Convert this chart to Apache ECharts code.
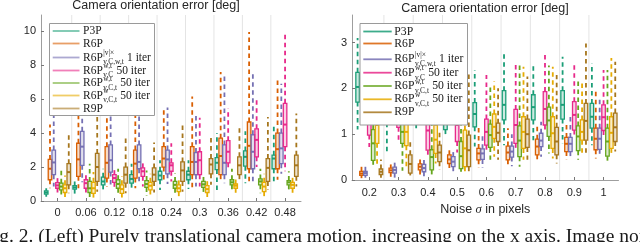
<!DOCTYPE html>
<html><head><meta charset="utf-8">
<script src="https://cdn.jsdelivr.net/npm/echarts@6/dist/echarts.min.js"></script>
<style>html,body{margin:0;padding:0;background:#fff}#c{width:640px;height:242px}</style>
</head><body><div id="c"></div>
<script>
// ---------- categories & tick labels ----------
const leftCategories = ['0','0.06','0.12','0.18','0.24','0.3','0.36','0.42','0.48'];
const rightCategories = ['0.2','0.3','0.4','0.5','0.6','0.7','0.8','0.9','1'];
const leftYTicks = [0,2,4,6,8,10];
const rightYTicks = [0,1,2,3];
const seriesNames = ['P3P','R6P','R6P |v|x v,C,w,t 1 iter','R6P w,t v,C 50 iter','R6P w,t v,C,t 50 iter','R6P w v,C,t 50 iter','R9P'];
const legendLabels = [
  {base:'P3P'},
  {base:'R6P'},
  {base:'R6P', sup:'|v|\u00d7', sub:'v,C,w,t', tail:' 1 iter'},
  {base:'R6P', sup:'w,t', sub:'v,C', tail:' 50 iter'},
  {base:'R6P', sup:'w,t', sub:'v,C,t', tail:' 50 iter'},
  {base:'R6P', sup:'w', sub:'v,C,t', tail:' 50 iter'},
  {base:'R9P'}
];
const titleText = 'Camera orientation error [deg]';
const captionText = 'Fig. 2. (Left) Purely translational camera motion, increasing on the x axis. Image noise';

// ---------- left panel: [lower whisker, Q1, median, Q3, upper whisker] per category ----------
const L_P3P  = [[0.25,0.4,0.5,0.6,0.75],[0.35,0.7,0.8,0.9,1.15],[0.65,0.95,1.15,1.4,1.9],[0.65,1.05,1.3,1.55,2.2],[0.65,1.25,1.5,1.75,2.4],[0.7,1.25,1.55,1.75,2.4],[0.65,1.85,2.25,2.55,4.0],[1.05,2.05,2.6,2.95,4.1],[1.15,1.9,2.5,2.7,4.4]];
const L_R6P  = [[0.75,1.25,1.9,2.45,4.5],[0.75,1.45,2.45,3.4,6.2],[0.85,1.35,2.25,3.2,6.0],[0.75,1.35,2.2,3.0,6.0],[1.1,2.0,2.5,3.2,5.45],[0.75,1.55,2.3,3.2,6.15],[1.25,1.55,2.65,3.7,7.6],[1.15,1.9,3.25,4.65,9.95],[1.25,1.9,3.05,4.0,7.2]];
const L_R6Pa = [[0.85,1.55,2.27,3.0,5.6],[1.1,2.1,3.2,4.1,7.0],[0.95,1.7,2.4,3.3,6.0],[1.0,1.9,2.3,3.3,5.5],[1.0,1.6,2.45,3.0,5.5],[0.85,1.55,2.3,2.85,5.05],[1.05,1.55,2.25,3.3,7.5],[1.15,1.9,2.9,3.9,7.5],[1.6,2.2,3.1,4.0,6.9]];
const L_R6Pb = [[0.5,0.75,0.92,1.08,1.45],[0.5,0.75,1.05,1.25,1.65],[0.65,1.1,1.35,1.55,2.0],[0.85,1.45,1.75,1.95,2.25],[1.15,1.75,2.1,2.25,3.4],[0.85,1.55,2.4,2.9,4.9],[1.9,2.25,2.9,3.55,5.45],[2.0,2.6,3.6,4.25,5.95],[1.75,3.2,4.5,5.75,10.0]];
const L_R6Pc = [[0.3,0.65,0.85,1.05,1.8],[0.2,0.5,0.75,1.15,2.2],[0.3,0.75,1.0,1.25,1.9],[0.3,0.8,1.0,1.2,1.8],[0.35,0.75,0.95,1.15,1.65],[0.35,0.8,0.98,1.15,1.6],[0.6,0.95,1.1,1.25,1.9],[0.45,0.95,1.15,1.3,1.9],[0.65,0.95,1.1,1.2,1.75]];
const L_R6Pd = [[0.2,0.5,0.75,0.95,1.5],[0.2,0.45,0.75,1.1,1.7],[0.2,0.45,0.7,0.95,1.45],[0.3,0.65,0.9,1.1,1.6],[0.25,0.55,0.75,0.95,1.25],[0.2,0.5,0.7,0.9,1.25],[0.45,0.75,0.9,1.0,1.35],[0.25,0.55,0.85,1.1,1.6],[0.35,0.75,0.95,1.1,1.45]];
const L_R9P  = [[0.45,0.95,1.7,2.2,3.9],[0.55,1.15,2.0,2.8,5.2],[0.45,1.05,1.55,2.0,3.7],[0.5,1.15,1.55,1.95,3.45],[0.55,1.15,1.8,2.3,4.55],[0.95,1.6,2.15,2.5,3.8],[1.2,1.55,2.1,2.6,4.45],[0.65,1.15,1.95,2.5,4.95],[0.85,1.45,2.1,2.7,5.15]];

// ---------- right panel ----------
const R_P3P  = [[1.1,1.7,2.03,2.35,3.1],[0.55,1.25,1.6,2.0,3.0],[1.1,1.4,1.75,2.1,3.0],[0.95,1.1,1.45,1.8,2.6],[0.73,1.16,1.44,1.69,2.4],[0.76,1.31,1.64,1.95,2.8],[0.87,1.31,1.59,1.86,2.56],[0.8,1.33,1.64,1.95,2.69],[0.76,1.13,1.38,1.67,2.55]];
const R_R6P  = [[0.04,0.1,0.14,0.19,0.32],[0.07,0.16,0.21,0.26,0.34],[0.12,0.22,0.29,0.35,0.48],[0.25,0.36,0.45,0.55,0.65],[0.26,0.44,0.58,0.69,1.16],[0.33,0.44,0.6,0.74,1.13],[0.4,0.55,0.73,0.89,1.18],[0.44,0.62,0.79,0.93,1.2],[0.47,0.66,0.9,1.13,1.97]];
const R_R6Pa = [[0.05,0.1,0.15,0.19,0.3],[0.04,0.15,0.22,0.28,0.45],[0.07,0.18,0.26,0.34,0.45],[0.18,0.29,0.4,0.51,0.62],[0.26,0.45,0.58,0.68,1.0],[0.3,0.5,0.62,0.74,1.0],[0.51,0.73,0.86,1.02,1.27],[0.5,0.62,0.79,0.93,1.38],[0.51,0.67,0.9,1.13,1.82]];
const R_R6Pb = [[0.72,0.98,1.25,1.6,2.5],[0.8,1.15,1.5,1.9,2.8],[0.5,0.65,1.08,1.55,2.3],[0.6,0.84,1.2,1.6,2.4],[0.62,0.76,1.05,1.33,2.29],[0.65,0.8,1.2,1.54,2.55],[1.05,1.2,1.55,1.93,2.77],[0.98,1.09,1.42,1.71,2.56],[0.95,1.08,1.37,1.64,2.4]];
const R_R6Pc = [[0.28,0.43,0.8,1.1,1.9],[0.2,0.8,1.05,1.3,2.0],[0.1,0.22,0.5,0.66,1.4],[0.18,0.25,0.52,0.84,1.5],[0.44,0.71,0.98,1.22,2.04],[0.29,0.51,0.86,1.18,2.5],[0.58,0.95,1.3,1.59,2.5],[0.44,0.64,0.95,1.18,2.22],[0.4,0.52,0.84,1.13,2.4]];
const R_R6Pd = [[0.35,0.8,1.2,1.6,2.4],[0.3,0.75,1.05,1.35,2.1],[0.36,0.58,0.88,1.2,1.9],[0.18,0.29,0.69,1.09,2.0],[0.51,0.91,1.16,1.44,2.15],[0.44,0.69,1.05,1.38,2.47],[0.47,0.69,1.02,1.38,2.47],[0.55,0.87,1.05,1.31,2.15],[0.55,0.69,1.03,1.38,2.66]];
const R_R9P  = [[0.05,0.12,0.18,0.24,0.45],[0.1,0.15,0.35,0.55,0.9],[0.22,0.4,0.6,0.76,1.06],[0.15,0.29,0.65,0.98,2.35],[0.44,0.84,1.03,1.24,2.0],[0.44,0.71,1.0,1.33,2.26],[0.36,0.55,0.84,1.15,2.29],[0.58,0.87,1.29,1.67,2.98],[0.62,0.84,1.15,1.46,2.58]];

const colors = ['#1b9e77','#d95f02','#7570b3','#e7298a','#66a61e','#e6ab02','#a6761d'];

const panels = [
  {cats:leftCategories, data:[L_P3P,L_R6P,L_R6Pa,L_R6Pb,L_R6Pc,L_R6Pd,L_R9P], yTicks:leftYTicks,
   grid:{left:41, top:15, width:260, height:186}, xMin:-0.58, xMax:8.56, yMax:10.95, spacing:0.132, halfW:0.062, labelMargin:6},
  {cats:rightCategories, data:[R_P3P,R_R6P,R_R6Pa,R_R6Pb,R_R6Pc,R_R6Pd,R_R9P], yTicks:rightYTicks,
   grid:{left:352, top:15, width:266.5, height:165}, xMin:-0.59, xMax:8.51, yMax:3.6, spacing:0.133, halfW:0.06, labelMargin:7}
];

function hexA(hex, a){
  const n = parseInt(hex.slice(1),16);
  return 'rgba('+((n>>16)&255)+','+((n>>8)&255)+','+(n&255)+','+a+')';
}

function boxRenderer(s, P){
  return function(params, api){
    const xv = api.value(0) + (s-3)*P.spacing;
    const lo=api.value(1), q1=api.value(2), med=api.value(3), q3=api.value(4), hi=api.value(5);
    const pLo=api.coord([xv,lo]), pQ1=api.coord([xv,q1]), pQ3=api.coord([xv,q3]), pHi=api.coord([xv,hi]);
    const pL=api.coord([xv-P.halfW,med]), pR=api.coord([xv+P.halfW,med]);
    const c = colors[s];
    return {type:'group', children:[
      {type:'line', shape:{x1:pQ3[0],y1:pQ3[1],x2:pHi[0],y2:pHi[1]}, style:{stroke:c,lineWidth:1.8,lineDash:[4.5,3.5]}},
      {type:'line', shape:{x1:pQ1[0],y1:pQ1[1],x2:pLo[0],y2:pLo[1]}, style:{stroke:c,lineWidth:1.8,lineDash:[4.5,3.5]}},
      {type:'rect', shape:{x:pL[0],y:pQ3[1],width:pR[0]-pL[0],height:pQ1[1]-pQ3[1]}, style:{fill:hexA(c,0.22),stroke:c,lineWidth:1.3}},
      {type:'line', shape:{x1:pL[0],y1:pL[1],x2:pR[0],y2:pR[1]}, style:{stroke:c,lineWidth:2}}
    ]};
  };
}

const grids=[], xAxes=[], yAxes=[], series=[];
panels.forEach((P,p)=>{
  grids.push(P.grid);
  const idx = P.cats.map((c,i)=>i);
  xAxes.push({type:'value', gridIndex:p, min:P.xMin, max:P.xMax,
    axisLine:{show:true, onZero:false, lineStyle:{color:'#9e9e9e', width:1}},
    axisTick:{show:true, inside:true, length:3, customValues:idx, lineStyle:{color:'#777'}},
    axisLabel:{show:true, customValues:idx, formatter:v=>P.cats[Math.round(v)], fontSize:11, color:'#262626', fontFamily:'Liberation Sans', margin:P.labelMargin},
    splitLine:{show:false},
    name: p===1 ? 'Noise {i|\u03c3} in pixels' : '',
    nameLocation:'middle', nameGap:22,
    nameTextStyle:{fontSize:12.5, color:'#262626', fontFamily:'Liberation Sans', verticalAlign:'top',
      rich:{i:{fontStyle:'italic', fontSize:12.5, color:'#262626', fontFamily:'Liberation Serif'}}}
  });
  yAxes.push({type:'value', gridIndex:p, min:0, max:P.yMax,
    axisLine:{show:true, onZero:false, lineStyle:{color:'#9e9e9e', width:1}},
    axisTick:{show:true, inside:true, length:3, customValues:P.yTicks, lineStyle:{color:'#777'}},
    axisLabel:{show:true, customValues:P.yTicks, fontSize:11, color:'#262626', fontFamily:'Liberation Sans', margin:5},
    splitLine:{show:false}
  });
  // vertical separators between noise levels
  const bounds = P.cats.slice(1).map((c,i)=>[i+0.5, 0]);
  series.push({type:'custom', xAxisIndex:p, yAxisIndex:p, silent:true, z:1, data:bounds, encode:{x:0,y:1},
    renderItem:(params,api)=>{
      const a=api.coord([api.value(0),0]), b=api.coord([api.value(0),P.yMax]);
      return {type:'line', shape:{x1:a[0],y1:a[1],x2:b[0],y2:b[1]}, style:{stroke:'#e4e4e4',lineWidth:1}};
    }});
  P.data.forEach((arr,s)=>{
    series.push({type:'custom', name:seriesNames[s], xAxisIndex:p, yAxisIndex:p, z:2, silent:true, clip:false,
      data: arr.map((d,i)=>[i].concat(d)), encode:{x:0, y:[1,2,3,4,5]},
      renderItem: boxRenderer(s,P)});
  });
});

// ---------- legend / titles / caption as graphic text ----------
const mctx = document.createElement('canvas').getContext('2d');
function tw(t, fs, fam){ mctx.font = fs+'px "'+(fam||'Liberation Serif')+'"'; return mctx.measureText(t).width; }
function txt(t, x, y, fs, fam, align){
  return {type:'text', z:102, style:{text:t, x:x, y:y, font:fs+'px "'+(fam||'Liberation Serif')+'"', fill:'#1a1a1a', align:align||'left', verticalAlign:'middle'}};
}
function legendEls(L){
  const els=[{type:'rect', z:100, shape:{x:L.x, y:L.y, width:L.w, height:L.h}, style:{fill:'#fff', stroke:'#9a9a9a', lineWidth:1}}];
  legendLabels.forEach((lab,k)=>{
    const y=L.ys[k];
    els.push({type:'line', z:101, shape:{x1:L.lx1,y1:y,x2:L.lx2,y2:y}, style:{stroke:hexA(colors[k],L.alpha), lineWidth:1.8}});
    let x=L.tx;
    els.push(txt(lab.base, x, y, L.fs));
    x += tw(lab.base, L.fs);
    if(lab.sup||lab.sub){
      const ss=L.fs*0.64;
      if(lab.sup) els.push(txt(lab.sup, x+0.5, y-L.fs*0.37, ss));
      if(lab.sub) els.push(txt(lab.sub, x+0.5, y+L.fs*0.42, ss));
      x += Math.max(tw(lab.sup||'',ss), tw(lab.sub||'',ss)) + 0.8;
    }
    if(lab.tail) els.push(txt(lab.tail, x, y, L.fs));
  });
  return els;
}
const titleL = txt(titleText, 156, 6, 12.5, 'Liberation Sans', 'center');
const titleR = txt(titleText, 485, 9, 12.5, 'Liberation Sans', 'center');
titleL.style.fill = titleR.style.fill = '#262626';
const graphics = [].concat(
  legendEls({x:49.5, y:23.5, w:105, h:92, ys:[31,43.5,57.5,70.5,83,95.5,108.5], lx1:52.7, lx2:79.5, tx:83, fs:11.5, alpha:0.6}),
  legendEls({x:360, y:23.5, w:107.5, h:101.5, ys:[31.5,43.5,59.3,72.7,86,99.3,112.3], lx1:363.3, lx2:391.7, tx:394.3, fs:11.7, alpha:0.85}),
  [ titleL, titleR,
    {type:'text', z:102, style:{text:captionText, x:-17, y:227, font:'19.5px "Liberation Serif"', fill:'#1a1a1a', align:'left', verticalAlign:'top'}}
  ]
);

const chart = echarts.init(document.getElementById('c'), null, {renderer:'canvas'});
chart.setOption({
  animation:false,
  backgroundColor:'#fff',
  grid:grids, xAxis:xAxes, yAxis:yAxes, series:series,
  graphic:{elements:graphics}
});
</script>
</body></html>
